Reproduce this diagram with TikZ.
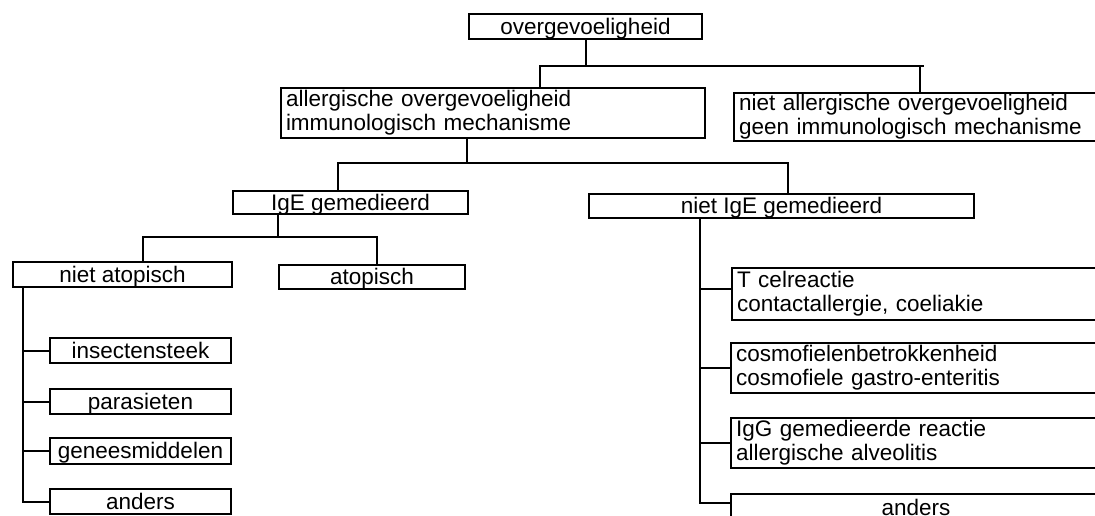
\documentclass[tikz,border=0pt]{standalone}
\usepackage{fontspec}
\setmainfont{Liberation Sans}

\begin{document}
\begin{tikzpicture}[x=1pt,y=-1pt,line width=2pt,
  box/.style={rectangle,draw,inner sep=0pt,anchor=north west,font=\fontsize{22.5}{24}\selectfont},
  one box/.style={box,text height=18pt,text depth=3pt,minimum height=25pt},
  two box/.style={box,align=left,inner xsep=5pt,minimum height=50pt}]

    \useasboundingbox (0,0) rectangle (1095,515);

    \node (1) at (468,13) [one box,minimum width=233pt]{overgevoeligheid};

    \node (2) at (280,87) [two box,text width=414pt]{allergische overgevoeligheid\\immunologisch mechanisme};
    \node (3) at (733,92) [two box,minimum height=48pt,text width=362pt]{niet allergische overgevoeligheid\\geen immunologisch mechanisme};

    \node (4) at (232,190) [one box,minimum width=235pt,minimum height=23pt]{IgE gemedieerd};
    \node (5) at (588,193) [one box,minimum width=385pt,minimum height=24pt]{niet IgE gemedieerd};

    \node (6) at (12,261) [one box,minimum width=219pt]{niet atopisch};
    \node (7) at (278,264) [one box,minimum width=186pt,minimum height=24pt]{atopisch};

    \node (8) at (49,337) [one box,minimum width=181pt]{insectensteek};
    \node (9) at (49,388) [one box,minimum width=181pt]{parasieten};
    \node (10) at (49,437) [one box,minimum width=181pt,minimum height=26pt]{geneesmiddelen};
    \node (11) at (49,488) [one box,minimum width=181pt]{anders};

    \node (12) at (731,267) [two box,minimum height=52pt,text width=359pt]{T celreactie\\contactallergie, coeliakie};
    \node (13) at (730,342) [two box,text width=360pt]{cosmofielenbetrokkenheid\\cosmofiele gastro-enteritis};
    \node (14) at (730,417) [two box,text width=360pt]{IgG gemedieerde reactie\\allergische alveolitis};
    \node (15) at (730,493) [one box,text depth=0pt,minimum width=370pt,minimum height=24pt]{anders};

    \coordinate (j1) at (540,66);
    \coordinate (j2) at (920,66);
    \coordinate (j3) at (338,163);
    \coordinate (j4) at (788,163);
    \coordinate (j5) at (143,237);
    \coordinate (j6) at (377,237);

    \draw (1.south) -- (1.south |- j1);
    \draw (j1 |- 2.north) -- (j1) -- ([xshift=4pt]j2);
    \draw (j2) -- (j2 |- 3.north);

    \draw ([xshift=187pt]2.south west) |- (j3) -- (j3 |- 4.north);
    \draw (j3) -- (j4) -- (j4 |- 5.north);

    \draw ([xshift=46pt]4.south west) |- (j5) -- (j5 |- 6.north);
    \draw (j5) -- (j6) -- (j6 |- 7.north);

    \draw ([xshift=11pt]6.south west) |- (8.west);
    \draw ([xshift=11pt]6.south west) |- (9.west);
    \draw ([xshift=11pt]6.south west) |- (10.west);
    \draw ([xshift=11pt]6.south west) |- (11.west);

    \draw ([xshift=112pt]5.south west) |- ([yshift=5pt]12.west);
    \draw ([xshift=112pt]5.south west) |- (13.west);
    \draw ([xshift=112pt]5.south west) |- (14.west);
    \draw ([xshift=112pt]5.south west) |- ([yshift=3pt]15.west);
\end{tikzpicture}
\end{document}
